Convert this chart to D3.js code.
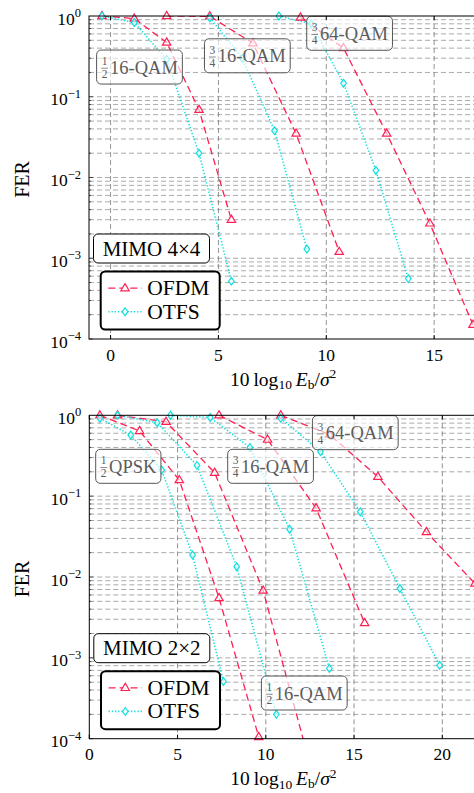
<!DOCTYPE html>
<html>
<head>
<meta charset="utf-8">
<script src="https://cdn.jsdelivr.net/npm/d3@7"></script>
<style>
  body { margin: 0; background: #fff; }
  svg, svg text { font-family: "Liberation Serif", "Times New Roman", Tinos, "DejaVu Serif", "Noto Serif", serif; }
</style>
</head>
<body>
<svg id="chart" width="474" height="793" font-family="Liberation Serif, Times New Roman, DejaVu Serif, serif"></svg>
<script>
// FER curves, OFDM vs OTFS, two MIMO setups

// ---- MIMO 4x4 ----
const t4HalfQam16Snr   = [-0.4, 1.1, 2.6, 4.1, 5.6];
const t4HalfQam16Ofdm  = [1.0, 0.93, 0.47, 0.069, 0.0030];
const t4HalfQam16Otfs  = [1.0, 0.83, 0.29, 0.020, 0.00052];
const t4Qam16OfdmSnr   = [2.6, 4.6, 6.6, 8.6, 10.6];
const t4Qam16Ofdm      = [1.0, 0.99, 0.46, 0.035, 0.0012];
const t4Qam16OtfsSnr   = [4.6, 6.1, 7.6, 9.1];
const t4Qam16Otfs      = [0.95, 0.30, 0.038, 0.0013];
const t4Qam64OfdmSnr   = [8.8, 10.8, 12.8, 14.8, 16.8];
const t4Qam64Ofdm      = [0.96, 0.40, 0.035, 0.0027, 0.00015];
const t4Qam64OtfsSnr   = [7.8, 9.3, 10.8, 12.3, 13.8];
const t4Qam64Otfs      = [1.0, 0.80, 0.147, 0.0122, 0.00056];

// ---- MIMO 2x2 ----
const t2QpskOfdmSnr      = [0.6, 2.85, 5.1, 7.35, 9.6];
const t2QpskOfdm         = [1.0, 0.64, 0.158, 0.0055, 0.000105];
const t2QpskOtfsSnr      = [0.6, 2.35, 4.1, 5.85, 7.6];
const t2QpskOtfs         = [0.92, 0.57, 0.21, 0.0187, 0.00051];
const t2HalfQam16OfdmSnr = [1.6, 4.35, 7.1, 9.85, 12.6];
const t2HalfQam16Ofdm    = [1.0, 0.83, 0.195, 0.0068, 0.00004];
const t2HalfQam16OtfsSnr = [1.6, 3.85, 6.1, 8.35, 10.6];
const t2HalfQam16Otfs    = [1.0, 0.81, 0.24, 0.0134, 0.0002];
const t2Qam16OfdmSnr     = [7.35, 10.1, 12.85, 15.6];
const t2Qam16Ofdm        = [1.0, 0.50, 0.071, 0.0027];
const t2Qam16OtfsSnr     = [4.6, 6.85, 9.1, 11.35, 13.6];
const t2Qam16Otfs        = [1.0, 0.94, 0.40, 0.039, 0.00074];
const t2Qam64OfdmSnr     = [10.85, 13.6, 16.35, 19.1, 21.85];
const t2Qam64Ofdm        = [1.0, 0.58, 0.174, 0.036, 0.0083];
const t2Qam64OtfsSnr     = [10.85, 13.1, 15.35, 17.6, 19.85];
const t2Qam64Otfs        = [0.92, 0.355, 0.064, 0.0072, 0.00081];

const xTicksTop = [0, 5, 10, 15];
const xTicksBot = [0, 5, 10, 15, 20];
const yTickExp = [0, -1, -2, -3, -4];
const legendNames = ['OFDM', 'OTFS'];

const RED = '#ff1f52';
const CYAN = '#10e0e0';

const zip = (xs, ys) => xs.map((x, i) => ({ x, y: ys[i] }));

const panels = [
  {
    xDomain: [-1, 17], xRange: [89, 477.3], yRange: [339, 16],
    xTicks: xTicksTop, mimo: 'MIMO 4×4',
    curves: [
      { kind: 'OFDM', pts: zip(t4HalfQam16Snr, t4HalfQam16Ofdm) },
      { kind: 'OTFS', pts: zip(t4HalfQam16Snr, t4HalfQam16Otfs) },
      { kind: 'OFDM', pts: zip(t4Qam16OfdmSnr, t4Qam16Ofdm) },
      { kind: 'OTFS', pts: zip(t4Qam16OtfsSnr, t4Qam16Otfs) },
      { kind: 'OFDM', pts: zip(t4Qam64OfdmSnr, t4Qam64Ofdm) },
      { kind: 'OTFS', pts: zip(t4Qam64OtfsSnr, t4Qam64Otfs) }
    ],
    // annotation boxes, placed in axis coordinates (snr, log10 fer)
    labels: [
      { num: '1', den: '2', txt: '16-QAM', x: 1.34, ly: -0.632 },
      { num: '3', den: '4', txt: '16-QAM', x: 6.34, ly: -0.493 },
      { num: '3', den: '4', txt: '64-QAM', x: 11.08, ly: -0.214 }
    ]
  },
  {
    xDomain: [0, 22], xRange: [89.3, 477.6], yRange: [738.7, 415.3],
    xTicks: xTicksBot, mimo: 'MIMO 2×2',
    curves: [
      { kind: 'OFDM', pts: zip(t2QpskOfdmSnr, t2QpskOfdm) },
      { kind: 'OTFS', pts: zip(t2QpskOtfsSnr, t2QpskOtfs) },
      { kind: 'OFDM', pts: zip(t2HalfQam16OfdmSnr, t2HalfQam16Ofdm) },
      { kind: 'OTFS', pts: zip(t2HalfQam16OtfsSnr, t2HalfQam16Otfs) },
      { kind: 'OFDM', pts: zip(t2Qam16OfdmSnr, t2Qam16Ofdm) },
      { kind: 'OTFS', pts: zip(t2Qam16OtfsSnr, t2Qam16Otfs) },
      { kind: 'OFDM', pts: zip(t2Qam64OfdmSnr, t2Qam64Ofdm) },
      { kind: 'OTFS', pts: zip(t2Qam64OtfsSnr, t2Qam64Otfs) }
    ],
    labels: [
      { num: '1', den: '2', txt: 'QPSK', x: 2.21, ly: -0.631 },
      { num: '3', den: '4', txt: '16-QAM', x: 10.27, ly: -0.631 },
      { num: '3', den: '4', txt: '64-QAM', x: 15.07, ly: -0.215 },
      { num: '1', den: '2', txt: '16-QAM', x: 12.18, ly: -3.435 }
    ]
  }
];

const style = {
  OFDM: { color: RED, dash: '7 4', width: 1.3, marker: 'M0,-4.6L4.2,2.6L-4.2,2.6Z' },
  OTFS: { color: CYAN, dash: '1.3 1.9', width: 1.6, marker: 'M0,-3.9L2.8,0L0,3.9L-2.8,0Z' }
};

const svg = d3.select('#chart');

panels.forEach((p, pi) => {
  const x = d3.scaleLinear().domain(p.xDomain).range(p.xRange);
  const y = d3.scaleLog().domain([1e-4, 1]).range(p.yRange);
  const left = p.xRange[0], right = p.xRange[1];
  const bottom = p.yRange[0], top = p.yRange[1];

  const g = svg.append('g');

  const clipId = 'clip' + pi;
  g.append('clipPath').attr('id', clipId)
    .append('rect').attr('x', left).attr('y', top)
    .attr('width', right - left).attr('height', bottom - top);

  // grid: every log minor step, and major x ticks
  const yGrid = [];
  for (let e = -4; e < 0; e++) for (let k = 1; k <= 9; k++) yGrid.push(k * Math.pow(10, e));
  const grid = g.append('g').attr('stroke', '#a0a0a0').attr('stroke-width', 0.9)
    .attr('stroke-dasharray', '5 3');
  grid.selectAll('line.h').data(yGrid.filter(v => v > 1e-4)).enter().append('line')
    .attr('x1', left).attr('x2', right)
    .attr('y1', d => y(d)).attr('y2', d => y(d));
  grid.selectAll('line.v').data(p.xTicks.filter(v => x(v) > left + 1)).enter().append('line')
    .attr('x1', d => x(d)).attr('x2', d => x(d))
    .attr('y1', top).attr('y2', bottom)
    .attr('stroke', '#888');

  // curves
  const line = d3.line().x(d => x(d.x)).y(d => y(d.y));
  const plot = g.append('g').attr('clip-path', `url(#${clipId})`);
  p.curves.forEach(c => {
    const s = style[c.kind];
    plot.append('path').datum(c.pts)
      .attr('d', line).attr('fill', 'none')
      .attr('stroke', s.color).attr('stroke-width', s.width)
      .attr('stroke-dasharray', s.dash);
  });
  p.curves.forEach(c => {
    const s = style[c.kind];
    g.selectAll(null).data(c.pts.filter(d => d.y >= 1e-4 && d.x <= p.xDomain[1] + 0.2)).enter()
      .append('path').attr('d', s.marker)
      .attr('transform', d => `translate(${x(d.x)},${y(d.y)})`)
      .attr('fill', '#fff').attr('fill-opacity', 0.6)
      .attr('stroke', s.color).attr('stroke-width', 1.2);
  });

  // annotation boxes (semi transparent)
  p.labels.forEach(l => {
    const lg = g.append('g')
      .attr('transform', `translate(${x(l.x)},${y(Math.pow(10, l.ly))})`);
    const rect = lg.append('rect');
    const inner = lg.append('g').attr('fill', '#5c5c5c');
    inner.append('text').attr('x', 0).attr('y', -2).attr('text-anchor', 'middle')
      .attr('font-size', 11.5).text(l.num);
    inner.append('text').attr('x', 0).attr('y', 11).attr('text-anchor', 'middle')
      .attr('font-size', 11.5).text(l.den);
    inner.append('line').attr('x1', -3.4).attr('x2', 3.4).attr('y1', 1.2).attr('y2', 1.2)
      .attr('stroke', '#5c5c5c').attr('stroke-width', 0.7);
    const t = inner.append('text').attr('x', 5.5).attr('y', 6.5)
      .attr('font-size', 18.5).text(l.txt);
    const w = 5.5 + t.node().getComputedTextLength() + 3.4;
    inner.attr('transform', `translate(${-w / 2 + 3.4},0)`);
    rect.attr('x', -w / 2 - 4.5).attr('y', -17).attr('width', w + 9).attr('height', 34)
      .attr('rx', 4.5).attr('fill', '#fff').attr('fill-opacity', 0.62)
      .attr('stroke', '#555').attr('stroke-width', 1);
  });

  // axis frame + ticks
  const frame = g.append('g').attr('stroke', '#000').attr('fill', 'none');
  frame.append('rect').attr('x', left).attr('y', top)
    .attr('width', right - left).attr('height', bottom - top).attr('stroke-width', 1);
  p.xTicks.forEach(v => {
    frame.append('line').attr('x1', x(v)).attr('x2', x(v)).attr('y1', bottom).attr('y2', bottom - 4);
    frame.append('line').attr('x1', x(v)).attr('x2', x(v)).attr('y1', top).attr('y2', top + 4);
  });
  yGrid.forEach(v => {
    const major = Math.abs(Math.log10(v) - Math.round(Math.log10(v))) < 1e-9;
    frame.append('line').attr('x1', left).attr('x2', left + (major ? 4 : 2))
      .attr('y1', y(v)).attr('y2', y(v)).attr('stroke-width', 0.6);
  });

  // tick labels
  const xl = g.append('g').attr('font-size', 17.5).attr('text-anchor', 'middle');
  xl.selectAll('text').data(p.xTicks).enter().append('text')
    .attr('x', d => x(d)).attr('y', bottom + 21.5).text(d => d);

  const yl = g.append('g').attr('font-size', 17.5).attr('text-anchor', 'end');
  yTickExp.forEach(e => {
    const t = yl.append('text').attr('x', left - 8).attr('y', y(Math.pow(10, e)) + 8.5);
    t.append('tspan').text('10');
    t.append('tspan').attr('font-size', 12.5).attr('dy', -7.5)
      .text(e === 0 ? '0' : '\u2212' + Math.abs(e));
  });

  // axis titles
  g.append('text').attr('transform', `translate(29,${(top + bottom) / 2 + 2}) rotate(-90)`)
    .attr('text-anchor', 'middle').attr('font-size', 20).text('FER');

  const xt = g.append('text').attr('x', (left + right) / 2).attr('y', bottom + 46.5)
    .attr('text-anchor', 'middle').attr('font-size', 19.5);
  xt.append('tspan').text('10\u2009log');
  xt.append('tspan').attr('font-size', 13.5).attr('dy', 3.5).text('10');
  xt.append('tspan').attr('dy', -3.5).text('\u2009');
  xt.append('tspan').attr('font-style', 'italic').text('E');
  xt.append('tspan').attr('font-size', 13.5).attr('dy', 3).text('b');
  xt.append('tspan').attr('dy', -3).text('/');
  xt.append('tspan').attr('font-style', 'italic').text('σ');
  xt.append('tspan').attr('font-size', 13.5).attr('dy', -7.5).text('2');

  // MIMO box
  const mg = g.append('g').attr('transform', `translate(${left + 4.5},${bottom - 105})`);
  mg.append('rect').attr('width', 116).attr('height', 29).attr('rx', 4.5)
    .attr('fill', '#fff').attr('stroke', '#000').attr('stroke-width', 1);
  mg.append('text').attr('x', 58).attr('y', 21.5).attr('text-anchor', 'middle')
    .attr('font-size', 21).text(p.mimo);

  // legend
  const lgd = g.append('g').attr('transform', `translate(${left + 11.7},${bottom - 67.5})`);
  lgd.append('rect').attr('width', 119).attr('height', 58).attr('rx', 4.5)
    .attr('fill', '#fff').attr('stroke', '#000').attr('stroke-width', 2);
  legendNames.forEach((name, i) => {
    const s = style[name];
    const cy = 16.7 + i * 23.5;
    lgd.append('line').attr('x1', 7.6).attr('x2', 41).attr('y1', cy).attr('y2', cy)
      .attr('stroke', s.color).attr('stroke-width', s.width).attr('stroke-dasharray', s.dash);
    lgd.append('path').attr('d', s.marker).attr('transform', `translate(24.3,${cy})`)
      .attr('fill', '#fff').attr('stroke', s.color).attr('stroke-width', 1.2);
    lgd.append('text').attr('x', 46.5).attr('y', cy + 7).attr('font-size', 21.5).text(name);
  });
});
</script>
</body>
</html>
